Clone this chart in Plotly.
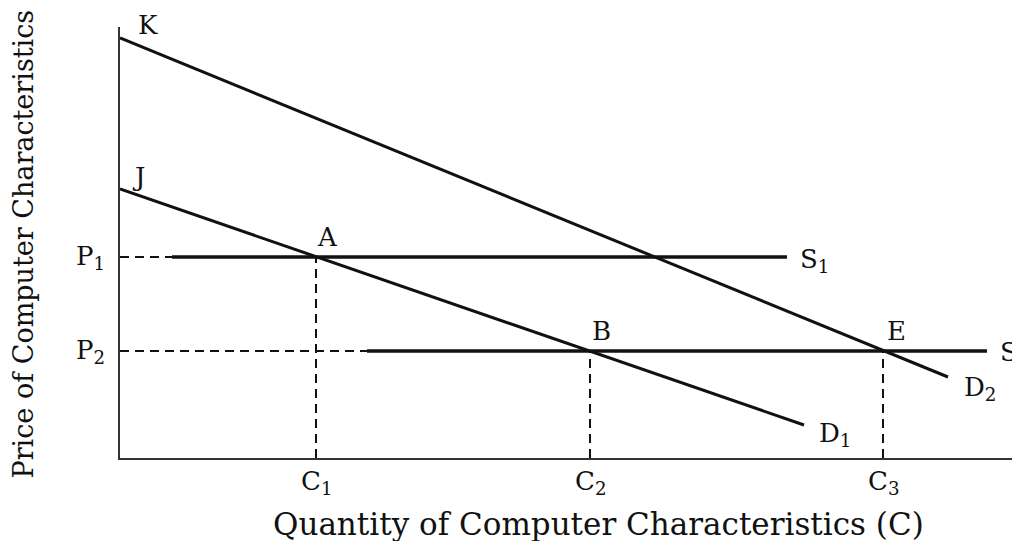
import plotly.graph_objects as go

# demand curves (start on price axis, end at label)
d1_x = [0, 68.4]
d1_y = [26.9, 3.3]
d2_x = [0, 82.8]
d2_y = [42.0, 8.1]

# supply lines (horizontal)
p1 = 20.1
p2 = 10.7
s1_x = [5.2, 66.7]
s2_x = [24.7, 86.7]

# equilibrium quantities
c1 = 19.6
c2 = 47.0
c3 = 76.3

FONT = "DejaVu Serif"
BLACK = "#111111"
DASH = "9px,6px"

fig = go.Figure()

# dashed guides
fig.add_trace(go.Scatter(x=[0, s1_x[0]], y=[p1, p1], mode="lines",
                         line=dict(color=BLACK, width=2, dash=DASH)))
fig.add_trace(go.Scatter(x=[0, s2_x[0]], y=[p2, p2], mode="lines",
                         line=dict(color=BLACK, width=2, dash=DASH)))
for c, p in [(c1, p1), (c2, p2), (c3, p2)]:
    fig.add_trace(go.Scatter(x=[c, c], y=[0, p], mode="lines",
                             line=dict(color=BLACK, width=2, dash=DASH)))

# supply
fig.add_trace(go.Scatter(x=s1_x, y=[p1, p1], mode="lines",
                         line=dict(color=BLACK, width=3.5)))
fig.add_trace(go.Scatter(x=s2_x, y=[p2, p2], mode="lines",
                         line=dict(color=BLACK, width=3.5)))

# demand
fig.add_trace(go.Scatter(x=d1_x, y=d1_y, mode="lines",
                         line=dict(color=BLACK, width=3)))
fig.add_trace(go.Scatter(x=d2_x, y=d2_y, mode="lines",
                         line=dict(color=BLACK, width=3)))

lab_font = dict(family=FONT, size=26, color=BLACK)

# labels inside the plotting range
labels = [
    ("J", 1.8, 28.1, "center"),
    ("A", c1 + 1.1, p1 + 2.0, "center"),
    ("B", c2 + 1.1, p2 + 2.0, "center"),
    ("E", c3 + 1.3, p2 + 2.0, "center"),
    ("S<sub>1</sub>", s1_x[1] + 1.1, p1 - 0.3, "left"),
    ("S<sub>2</sub>", s2_x[1] + 1.1, p2 - 0.2, "left"),
    ("D<sub>1</sub>", d1_x[1] + 1.3, d1_y[1] - 0.9, "left"),
    ("D<sub>2</sub>", d2_x[1] + 1.4, d2_y[1] - 1.1, "left"),
]
for txt, x, y, anchor in labels:
    fig.add_annotation(x=x, y=y, text=txt, showarrow=False, xanchor=anchor,
                       font=lab_font)

# labels outside the range (paper refs so they are not hidden)
fig.add_annotation(x=2.8, y=1.005, yref="paper", yanchor="middle", text="K",
                   showarrow=False, font=lab_font)
for txt, p in [("P<sub>1</sub>", p1), ("P<sub>2</sub>", p2)]:
    fig.add_annotation(x=-0.014, xref="paper", xanchor="right", y=p,
                       text=txt, showarrow=False, font=lab_font)
for txt, c in [("C<sub>1</sub>", c1), ("C<sub>2</sub>", c2),
               ("C<sub>3</sub>", c3)]:
    fig.add_annotation(x=c, y=-0.058, yref="paper", yanchor="middle",
                       text=txt, showarrow=False, font=lab_font)

fig.add_annotation(xref="paper", yref="paper", x=0.532, y=-0.153,
                   xanchor="center", yanchor="middle",
                   text="Quantity of Computer Characteristics (C)",
                   showarrow=False,
                   font=dict(family=FONT, size=31, color=BLACK))
fig.add_annotation(xref="paper", yref="paper", x=-0.107, y=0.497,
                   xanchor="center", yanchor="middle",
                   text="Price of Computer Characteristics", textangle=-90,
                   showarrow=False,
                   font=dict(family=FONT, size=27, color=BLACK))

fig.update_xaxes(range=[0, 90], showgrid=False, zeroline=False,
                 showticklabels=False, ticks="", showline=True,
                 linecolor="#333333", linewidth=2)
fig.update_yaxes(range=[0, 43.1], showgrid=False, zeroline=False,
                 showticklabels=False, ticks="", showline=True,
                 linecolor="#333333", linewidth=2)

# page body has an 8px margin, so the figure is 8px smaller each way
fig.update_layout(
    width=1012, height=533,
    margin=dict(l=112, r=0, t=19, b=83),
    plot_bgcolor="white", paper_bgcolor="white",
    showlegend=False,
)

fig.write_html("out.html")
